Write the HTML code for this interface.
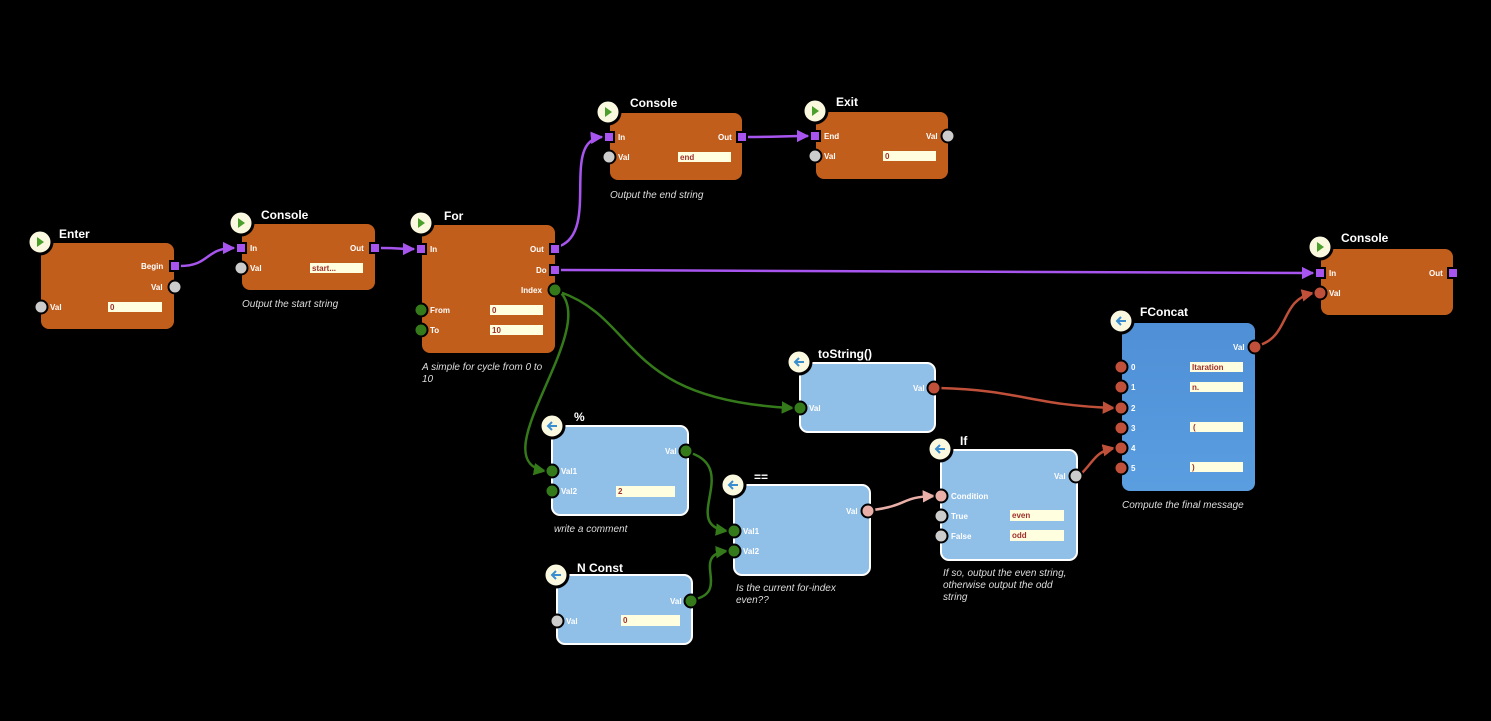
<!DOCTYPE html>
<html><head><meta charset="utf-8"><style>
html,body{margin:0;padding:0;background:#000;width:1491px;height:721px;overflow:hidden}
svg{display:block;font-family:"Liberation Sans",sans-serif}
.t{fill:#fff;font-weight:bold;font-size:12px}
.l{fill:#fff;font-weight:bold;font-size:8px}
.c{fill:#ddd;font-style:italic;font-size:10px}
.iv{fill:#a0302a;font-weight:bold;font-size:8px}
.o{fill:#c25e1c}
.b{fill:#90bfe8;stroke:#fff;stroke-width:2}
.in{fill:#ffffe0}
.ic{fill:#fbf8e0;stroke:#000;stroke-width:3}
.sq{fill:#a855f0;stroke:#000;stroke-width:2}
.gr{fill:#ccc;stroke:#000;stroke-width:2}
.gn{fill:#357a1a;stroke:#000;stroke-width:2}
.rd{fill:#c0503a;stroke:#000;stroke-width:2}
.pk{fill:#eab0a8;stroke:#000;stroke-width:2}
</style></head><body>
<svg width="1491" height="721" viewBox="0 0 1491 721">
<defs>
<marker id="ap" viewBox="0 0 10 10" refX="9" refY="5" markerWidth="5" markerHeight="5" orient="auto"><path d="M0,0L10,5L0,10z" fill="#a855f0"/></marker>
<marker id="ag" viewBox="0 0 10 10" refX="9" refY="5" markerWidth="5" markerHeight="5" orient="auto"><path d="M0,0L10,5L0,10z" fill="#357a1a"/></marker>
<marker id="ar" viewBox="0 0 10 10" refX="9" refY="5" markerWidth="5" markerHeight="5" orient="auto"><path d="M0,0L10,5L0,10z" fill="#c0503a"/></marker>
<marker id="ak" viewBox="0 0 10 10" refX="9" refY="5" markerWidth="5" markerHeight="5" orient="auto"><path d="M0,0L10,5L0,10z" fill="#eab0a8"/></marker>
<linearGradient id="fc" x1="0" y1="0" x2="0" y2="1"><stop offset="0" stop-color="#4f8fd6"/><stop offset="1" stop-color="#5a9ee0"/></linearGradient>
</defs>

<rect class="o" x="41" y="243" width="133" height="86" rx="8"/>
<rect class="o" x="242" y="224" width="133" height="66" rx="8"/>
<rect class="o" x="422" y="225" width="133" height="128" rx="8"/>
<rect class="o" x="610" y="113" width="132" height="67" rx="8"/>
<rect class="o" x="816" y="112" width="132" height="67" rx="8"/>
<rect class="o" x="1321" y="249" width="132" height="66" rx="8"/>
<rect x="1122" y="323" width="133" height="168" rx="8" fill="url(#fc)"/>
<rect class="b" x="800" y="363" width="135" height="69" rx="8"/>
<rect class="b" x="552" y="426" width="136" height="89" rx="8"/>
<rect class="b" x="734" y="485" width="136" height="90" rx="8"/>
<rect class="b" x="557" y="575" width="135" height="69" rx="8"/>
<rect class="b" x="941" y="450" width="136" height="110" rx="8"/>

<g fill="none" stroke-width="2.5">
<path d="M180,266 C210,266 205,248 234,248" stroke="#a855f0" marker-end="url(#ap)"/>
<path d="M380,248 C400,248 400,249 414,249" stroke="#a855f0" marker-end="url(#ap)"/>
<path d="M560,246 C600,230 560,140 602,137" stroke="#a855f0" marker-end="url(#ap)"/>
<path d="M747,137 C780,137 780,136 808,136" stroke="#a855f0" marker-end="url(#ap)"/>
<path d="M560,270 C900,270 1000,273 1313,273" stroke="#a855f0" marker-end="url(#ap)"/>
<path d="M560,292 C600,330 480,460 545,471" stroke="#357a1a" marker-end="url(#ag)"/>
<path d="M560,292 C640,320 620,400 793,408" stroke="#357a1a" marker-end="url(#ag)"/>
<path d="M691,453 C740,470 680,525 727,531" stroke="#357a1a" marker-end="url(#ag)"/>
<path d="M696,599 C730,590 690,555 727,551" stroke="#357a1a" marker-end="url(#ag)"/>
<path d="M939,388 C1020,390 1030,405 1114,408" stroke="#c0503a" marker-end="url(#ar)"/>
<path d="M1081,474 C1095,460 1095,452 1114,448" stroke="#c0503a" marker-end="url(#ar)"/>
<path d="M1260,345 C1290,335 1280,300 1313,293" stroke="#c0503a" marker-end="url(#ar)"/>
<path d="M873,510 C910,505 900,497 934,496" stroke="#eab0a8" marker-end="url(#ak)"/>
</g>

<g>
<circle class="ic" cx="40" cy="242" r="12"/><path d="M37,237l7,5l-7,5z" fill="#4aa02a"/>
<circle class="ic" cx="241" cy="223" r="12"/><path d="M238,218l7,5l-7,5z" fill="#4aa02a"/>
<circle class="ic" cx="421" cy="223" r="12"/><path d="M418,218l7,5l-7,5z" fill="#4aa02a"/>
<circle class="ic" cx="608" cy="112" r="12"/><path d="M605,107l7,5l-7,5z" fill="#4aa02a"/>
<circle class="ic" cx="815" cy="111" r="12"/><path d="M812,106l7,5l-7,5z" fill="#4aa02a"/>
<circle class="ic" cx="1320" cy="247" r="12"/><path d="M1317,242l7,5l-7,5z" fill="#4aa02a"/>
</g>
<g stroke="#3a8ed0" stroke-width="2" fill="none">
<circle class="ic" cx="1121" cy="321" r="12"/><path d="M1126,321h-9m4,-4l-4,4l4,4"/>
<circle class="ic" cx="799" cy="362" r="12"/><path d="M804,362h-9m4,-4l-4,4l4,4"/>
<circle class="ic" cx="552" cy="426" r="12"/><path d="M557,426h-9m4,-4l-4,4l4,4"/>
<circle class="ic" cx="733" cy="485" r="12"/><path d="M738,485h-9m4,-4l-4,4l4,4"/>
<circle class="ic" cx="556" cy="575" r="12"/><path d="M561,575h-9m4,-4l-4,4l4,4"/>
<circle class="ic" cx="940" cy="449" r="12"/><path d="M945,449h-9m4,-4l-4,4l4,4"/>
</g>

<text class="t" x="59" y="238">Enter</text>
<text class="t" x="261" y="219">Console</text>
<text class="t" x="444" y="220">For</text>
<text class="t" x="630" y="107">Console</text>
<text class="t" x="836" y="106">Exit</text>
<text class="t" x="1341" y="242">Console</text>
<text class="t" x="1140" y="316">FConcat</text>
<text class="t" x="818" y="358">toString()</text>
<text class="t" x="574" y="421">%</text>
<text class="t" x="754" y="481">==</text>
<text class="t" x="577" y="572">N Const</text>
<text class="t" x="960" y="445">If</text>

<g>
<rect class="in" x="108" y="302" width="54" height="10"/><text class="iv" x="110" y="310">0</text>
<rect class="in" x="310" y="263" width="53" height="10"/><text class="iv" x="312" y="271">start...</text>
<rect class="in" x="490" y="305" width="53" height="10"/><text class="iv" x="492" y="313">0</text>
<rect class="in" x="490" y="325" width="53" height="10"/><text class="iv" x="492" y="333">10</text>
<rect class="in" x="678" y="152" width="53" height="10"/><text class="iv" x="680" y="160">end</text>
<rect class="in" x="883" y="151" width="53" height="10"/><text class="iv" x="885" y="159">0</text>
<rect class="in" x="1190" y="362" width="53" height="10"/><text class="iv" x="1192" y="370">Itaration</text>
<rect class="in" x="1190" y="382" width="53" height="10"/><text class="iv" x="1192" y="390">n.</text>
<rect class="in" x="1190" y="422" width="53" height="10"/><text class="iv" x="1193" y="430">(</text>
<rect class="in" x="1190" y="462" width="53" height="10"/><text class="iv" x="1192" y="470">)</text>
<rect class="in" x="616" y="486" width="59" height="11"/><text class="iv" x="618" y="494">2</text>
<rect class="in" x="621" y="615" width="59" height="11"/><text class="iv" x="623" y="623">0</text>
<rect class="in" x="1010" y="510" width="54" height="11"/><text class="iv" x="1012" y="518">even</text>
<rect class="in" x="1010" y="530" width="54" height="11"/><text class="iv" x="1012" y="538">odd</text>
</g>

<g>
<rect class="sq" x="170" y="261" width="10" height="10"/><circle class="gr" cx="175" cy="287" r="6.5"/><circle class="gr" cx="41" cy="307" r="6.5"/>
<rect class="sq" x="236" y="243" width="10" height="10"/><rect class="sq" x="370" y="243" width="10" height="10"/><circle class="gr" cx="241" cy="268" r="6.5"/>
<rect class="sq" x="416" y="244" width="10" height="10"/><rect class="sq" x="550" y="244" width="10" height="10"/><rect class="sq" x="550" y="265" width="10" height="10"/>
<circle class="gn" cx="555" cy="290" r="6.5"/><circle class="gn" cx="421" cy="310" r="6.5"/><circle class="gn" cx="421" cy="330" r="6.5"/>
<rect class="sq" x="604" y="132" width="10" height="10"/><rect class="sq" x="737" y="132" width="10" height="10"/><circle class="gr" cx="609" cy="157" r="6.5"/>
<rect class="sq" x="810" y="131" width="10" height="10"/><circle class="gr" cx="948" cy="136" r="6.5"/><circle class="gr" cx="815" cy="156" r="6.5"/>
<rect class="sq" x="1315" y="268" width="10" height="10"/><rect class="sq" x="1448" y="268" width="10" height="10"/><circle class="rd" cx="1320" cy="293" r="6.5"/>
<circle class="rd" cx="1255" cy="347" r="6.5"/>
<circle class="rd" cx="1121" cy="367" r="6.5"/><circle class="rd" cx="1121" cy="387" r="6.5"/><circle class="rd" cx="1121" cy="408" r="6.5"/><circle class="rd" cx="1121" cy="428" r="6.5"/><circle class="rd" cx="1121" cy="448" r="6.5"/><circle class="rd" cx="1121" cy="468" r="6.5"/>
<circle class="rd" cx="934" cy="388" r="6.5"/><circle class="gn" cx="800" cy="408" r="6.5"/>
<circle class="gn" cx="686" cy="451" r="6.5"/><circle class="gn" cx="552" cy="471" r="6.5"/><circle class="gn" cx="552" cy="491" r="6.5"/>
<circle class="pk" cx="868" cy="511" r="6.5"/><circle class="gn" cx="734" cy="531" r="6.5"/><circle class="gn" cx="734" cy="551" r="6.5"/>
<circle class="gn" cx="691" cy="601" r="6.5"/><circle class="gr" cx="557" cy="621" r="6.5"/>
<circle class="gr" cx="1076" cy="476" r="6.5"/><circle class="pk" cx="941" cy="496" r="6.5"/><circle class="gr" cx="941" cy="516" r="6.5"/><circle class="gr" cx="941" cy="536" r="6.5"/>
</g>

<g class="l">
<text x="141" y="269">Begin</text><text x="151" y="290">Val</text><text x="50" y="310">Val</text>
<text x="250" y="251">In</text><text x="350" y="251">Out</text><text x="250" y="271">Val</text>
<text x="430" y="252">In</text><text x="530" y="252">Out</text><text x="536" y="273">Do</text><text x="521" y="293">Index</text><text x="430" y="313">From</text><text x="430" y="333">To</text>
<text x="618" y="140">In</text><text x="718" y="140">Out</text><text x="618" y="160">Val</text>
<text x="824" y="139">End</text><text x="926" y="139">Val</text><text x="824" y="159">Val</text>
<text x="1329" y="276">In</text><text x="1429" y="276">Out</text><text x="1329" y="296">Val</text>
<text x="1233" y="350">Val</text>
<text x="1131" y="370">0</text><text x="1131" y="390">1</text><text x="1131" y="411">2</text><text x="1131" y="431">3</text><text x="1131" y="451">4</text><text x="1131" y="471">5</text>
<text x="913" y="391">Val</text><text x="809" y="411">Val</text>
<text x="665" y="454">Val</text><text x="561" y="474">Val1</text><text x="561" y="494">Val2</text>
<text x="846" y="514">Val</text><text x="743" y="534">Val1</text><text x="743" y="554">Val2</text>
<text x="670" y="604">Val</text><text x="566" y="624">Val</text>
<text x="1054" y="479">Val</text><text x="951" y="499">Condition</text><text x="951" y="519">True</text><text x="951" y="539">False</text>
</g>

<g class="c">
<text x="242" y="307">Output the start string</text>
<text x="422" y="370">A simple for cycle from 0 to</text><text x="422" y="382">10</text>
<text x="610" y="198">Output the end string</text>
<text x="1122" y="508">Compute the final message</text>
<text x="554" y="532">write a comment</text>
<text x="736" y="591">Is the current for-index</text><text x="736" y="603">even??</text>
<text x="943" y="576">If so, output the even string,</text><text x="943" y="588">otherwise output the odd</text><text x="943" y="600">string</text>
</g>
</svg>
</body></html>
